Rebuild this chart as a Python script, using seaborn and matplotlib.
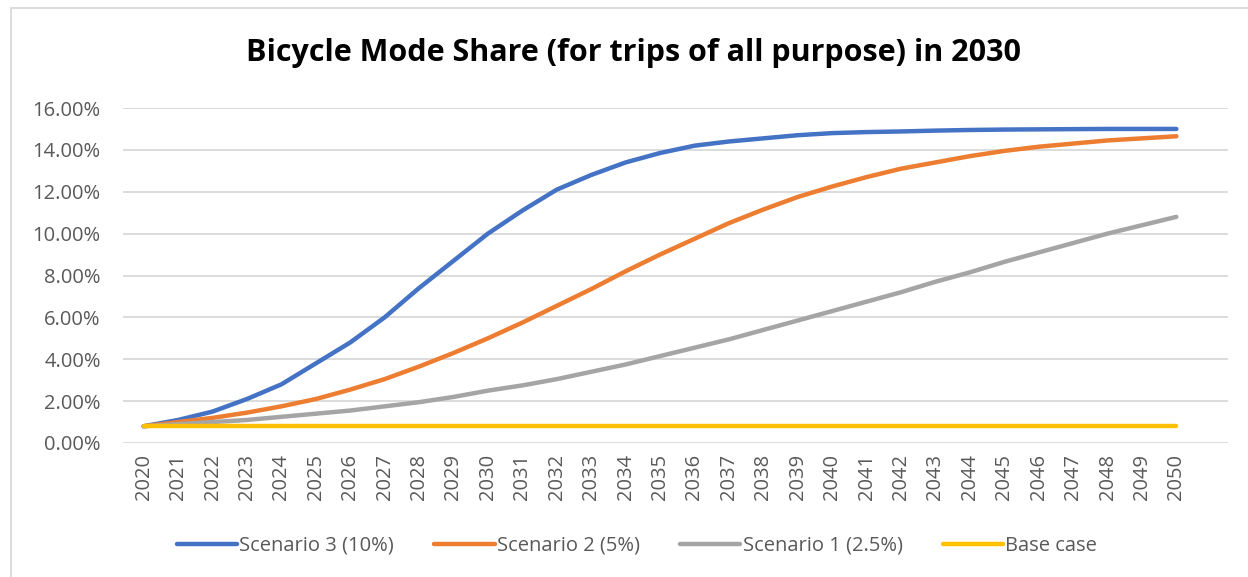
import numpy as np
import pandas as pd
import matplotlib
matplotlib.use("Agg")
import matplotlib.pyplot as plt
import seaborn as sns
from matplotlib.ticker import FuncFormatter
from matplotlib.patches import Rectangle

years = list(range(2020, 2051))

scenario3 = [0.8, 1.1, 1.5, 2.1, 2.8, 3.8, 4.8, 6.0, 7.4, 8.7, 10.0, 11.1, 12.1, 12.8, 13.4,
             13.85, 14.2, 14.4, 14.55, 14.7, 14.8, 14.85, 14.88, 14.92, 14.95, 14.97, 14.98,
             14.99, 15.0, 15.0, 15.0]
scenario2 = [0.8, 1.0, 1.2, 1.45, 1.75, 2.1, 2.55, 3.05, 3.65, 4.3, 5.0, 5.75, 6.55, 7.35, 8.2,
             9.0, 9.75, 10.5, 11.15, 11.75, 12.25, 12.7, 13.1, 13.4, 13.7, 13.95, 14.15, 14.3,
             14.45, 14.55, 14.65]
scenario1 = [0.8, 0.9, 1.0, 1.1, 1.25, 1.4, 1.55, 1.75, 1.95, 2.2, 2.5, 2.75, 3.05, 3.4, 3.75,
             4.15, 4.55, 4.95, 5.4, 5.85, 6.3, 6.75, 7.2, 7.7, 8.15, 8.65, 9.1, 9.55, 10.0, 10.4,
             10.8]
base_case = [0.8] * 31

series_names = ["Scenario 3 (10%)", "Scenario 2 (5%)", "Scenario 1 (2.5%)", "Base case"]
colors = ["#4472C4", "#ED7D31", "#A5A5A5", "#FFC000"]

df = pd.DataFrame({
    "Year": years * 4,
    "Share": scenario3 + scenario2 + scenario1 + base_case,
    "Scenario": sum([[n] * len(years) for n in series_names], []),
})

sns.set_theme(style="white")
plt.rcParams["font.family"] = ["Open Sans", "DejaVu Sans"]

fig = plt.figure(figsize=(12.48, 5.77), dpi=100)
ax = fig.add_axes([123 / 1248, 1 - 443 / 577, (1228 - 123) / 1248, (443 - 108) / 577])

sns.lineplot(data=df, x="Year", y="Share", hue="Scenario", palette=colors,
             hue_order=series_names, linewidth=3.2, ax=ax, legend=True)
for ln in ax.lines:
    ln.set_solid_capstyle("round")

ax.set_xlim(2020 - 0.6, 2050 + 1.5)
ax.set_ylim(0, 16)
ax.set_yticks(np.arange(0, 17, 2))
ax.yaxis.set_major_formatter(FuncFormatter(lambda v, p: f"{v:.2f}%"))
ax.set_xticks(years)
ax.set_xticklabels([str(y) for y in years], rotation=90)
ax.tick_params(axis="both", colors="#595959", labelsize=14.5, length=0)
ax.tick_params(axis="x", pad=8)
ax.tick_params(axis="y", pad=16)
ax.grid(axis="y", color="#D9D9D9", linewidth=1.3)
ax.set_axisbelow(True)
for s in ax.spines.values():
    s.set_visible(False)
ax.set_xlabel("")
ax.set_ylabel("")

handles, labels = ax.get_legend_handles_labels()
ax.legend(handles, labels, loc="center", bbox_to_anchor=((637 - 123) / 1105, -(546 - 443) / (443 - 108)),
          ncol=4, frameon=False, fontsize=14.5, handlelength=3.0, handletextpad=0.1,
          columnspacing=2.0, labelcolor="#595959")

fig.text(633 / 1248, 1 - 53 / 577, "Bicycle Mode Share (for trips of all purpose) in 2030",
         ha="center", va="center", fontsize=22, fontweight="bold", color="black")

fig.patches.append(Rectangle((11 / 1248, -0.01), 1.2, 1 - 8 / 577 + 0.01, transform=fig.transFigure,
                             fill=False, edgecolor="#D9D9D9", linewidth=1.3))

fig.savefig("out.png", dpi=100)
